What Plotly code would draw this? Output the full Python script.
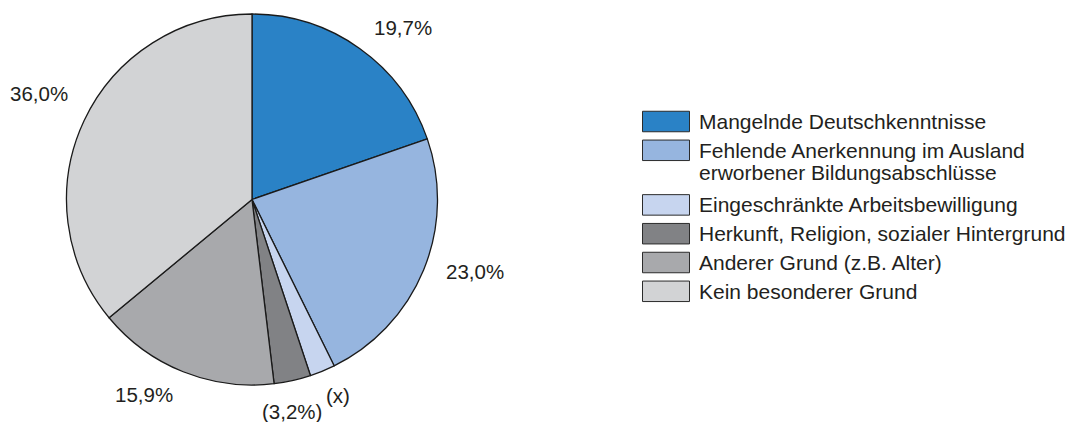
"""
Kreisdiagramm: Gründe für Benachteiligung (Anteile in %).
Legende als eigene Kästchen + Text, damit die Größe der Farbfelder passt.
"""

import math
import plotly.graph_objects as go

# ─────────────────────────────────────────────────────────────────
# Daten
# ─────────────────────────────────────────────────────────────────

categories = [
    "Mangelnde Deutschkenntnisse",
    "Fehlende Anerkennung im Ausland<br>erworbener Bildungsabschlüsse",
    "Eingeschränkte Arbeitsbewilligung",
    "Herkunft, Religion, sozialer Hintergrund",
    "Anderer Grund (z.B. Alter)",
    "Kein besonderer Grund",
]
values = [19.7, 23.0, 2.2, 3.2, 15.9, 36.0]
value_labels = ["19,7%", "23,0%", "(x)", "(3,2%)", "15,9%", "36,0%"]
colors = ["#2a82c6", "#96b5df", "#c7d5ef", "#818285", "#a8a9ac", "#d2d3d5"]

# ─────────────────────────────────────────────────────────────────
# Layout-Konstanten
# ─────────────────────────────────────────────────────────────────

W, H = 1070, 422
FONT = "Liberation Sans, Arial, sans-serif"
TEXT_COLOR = "#231f20"
LABEL_SIZE = 20.5
LEGEND_SIZE = 21

# Kreis: Mittelpunkt und Radius in Pixeln
CX, CY, R = 252, 199.5, 185.5
dom_x = [(CX - R) / W, (CX + R) / W]
dom_y = [1 - (CY + R) / H, 1 - (CY - R) / H]

# Handverschiebung der Beschriftungen (px, +x rechts, +y nach unten),
# die Vorlage setzt die Prozentwerte nicht streng radial.
label_nudge = [(20, 12), (14, -14), (4, -4), (-7, 1), (-24, -15), (-8, -10)]

fig = go.Figure(
    go.Pie(
        labels=[c.replace("<br>", " ") for c in categories],
        values=values,
        sort=False,
        direction="clockwise",
        rotation=0,
        marker=dict(colors=colors, line=dict(color="#1a1a1a", width=1.3)),
        textinfo="none",
        hoverinfo="label+percent",
        showlegend=False,
        domain=dict(x=dom_x, y=dom_y),
    )
)

# Prozent-Beschriftungen außerhalb, entlang der Segmentmitte
total = sum(values)
cum = 0.0
for v, lab, (nx, ny) in zip(values, value_labels, label_nudge):
    mid = (cum + v / 2) / total * 2 * math.pi
    cum += v
    k = 1.165 if v < 5 else 1.22
    px_x = CX + R * k * math.sin(mid) + nx
    px_y = CY - R * k * math.cos(mid) + ny
    fig.add_annotation(
        text=lab,
        xref="paper", yref="paper",
        x=px_x / W, y=1 - px_y / H,
        xanchor="center", yanchor="middle",
        showarrow=False,
        font=dict(family=FONT, size=LABEL_SIZE, color=TEXT_COLOR),
    )

# Eigene Legende: Farbfeld + Text (zweizeilige Einträge Zeile für Zeile)
SW_X0, SW_X1, SW_H = 642.5, 689.5, 20.5
TXT_X = 697
ROW = 28.8
LINE = 21.8
y = 121.5  # Mitte der ersten Zeile (Pixel)
for cat, col in zip(categories, colors):
    lines = cat.split("<br>")
    fig.add_shape(
        type="rect",
        xref="paper", yref="paper",
        x0=SW_X0 / W, x1=SW_X1 / W,
        y0=1 - (y + SW_H / 2) / H, y1=1 - (y - SW_H / 2) / H,
        fillcolor=col,
        line=dict(color="#2b2b2b", width=1),
    )
    for i, ln in enumerate(lines):
        fig.add_annotation(
            text=ln,
            xref="paper", yref="paper",
            x=TXT_X / W, y=1 - (y + i * LINE) / H,
            xanchor="left", yanchor="middle",
            showarrow=False,
            font=dict(family=FONT, size=LEGEND_SIZE, color=TEXT_COLOR),
        )
    y += ROW + (len(lines) - 1) * LINE + (4 if len(lines) > 1 else 0)

fig.update_layout(
    width=W, height=H,
    margin=dict(l=0, r=0, t=0, b=0),
    paper_bgcolor="white",
    plot_bgcolor="white",
    font=dict(family=FONT, color=TEXT_COLOR),
)

# Standard-Rand des <body> entfernen, sonst rutscht alles um 8 px
fig.write_html(
    "out.html",
    config={"displayModeBar": False},
    post_script="document.body.style.margin='0';document.body.style.overflow='hidden';",
)
